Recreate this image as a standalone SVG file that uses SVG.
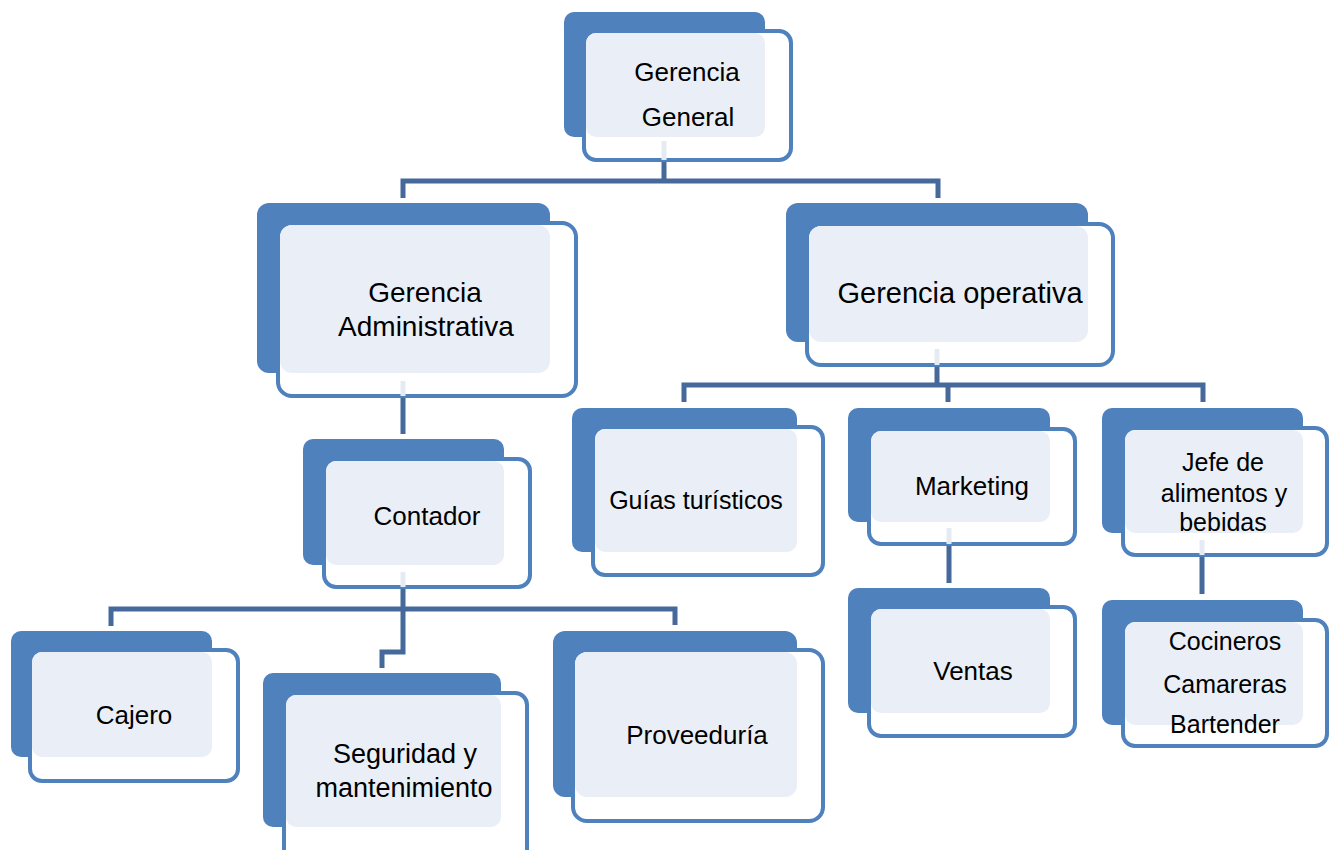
<svg xmlns="http://www.w3.org/2000/svg" width="1334" height="850" viewBox="0 0 1334 850">
<style>
.back{fill:#4F81BD}
.out{fill:#FFFFFF;stroke:#4F81BD;stroke-width:4}
.lite{fill:#EAEFF7}
.t{font-family:"Liberation Sans",Arial,sans-serif;fill:#000;text-anchor:middle}
.c{fill:none;stroke:#45699B;stroke-width:5}
.p{fill:none;stroke:#E6EBF3;stroke-width:5}
</style>
<rect width="1334" height="850" fill="#FFFFFF"/>
<g id="nodes">
<g id="gerencia-general">
<rect class="back" x="564" y="12" width="201" height="125" rx="10"/>
<rect class="out" x="584" y="31" width="207" height="129" rx="12"/>
<rect class="lite" x="586" y="33" width="179" height="104" rx="10"/>
<text class="t" font-size="26" x="687" y="81">Gerencia</text>
<text class="t" font-size="26" x="688" y="126">General</text>
</g>
<g id="gerencia-administrativa">
<rect class="back" x="257" y="203" width="293" height="170" rx="12"/>
<rect class="out" x="278" y="223" width="298" height="173" rx="14"/>
<rect class="lite" x="280" y="225" width="270" height="148" rx="12"/>
<text class="t" font-size="28" x="425" y="302">Gerencia</text>
<text class="t" font-size="28" x="426" y="336">Administrativa</text>
</g>
<g id="gerencia-operativa">
<rect class="back" x="786" y="203" width="302" height="139" rx="12"/>
<rect class="out" x="807" y="224" width="306" height="141" rx="14"/>
<rect class="lite" x="809" y="226" width="279" height="116" rx="12"/>
<text class="t" font-size="29" x="960" y="303">Gerencia operativa</text>
</g>
<g id="contador">
<rect class="back" x="303" y="439" width="201" height="126" rx="10"/>
<rect class="out" x="324" y="459" width="206" height="128" rx="12"/>
<rect class="lite" x="326" y="461" width="178" height="104" rx="10"/>
<text class="t" font-size="26" x="427" y="525">Contador</text>
</g>
<g id="guias-turisticos">
<rect class="back" x="572" y="408" width="225" height="144" rx="10"/>
<rect class="out" x="593" y="427" width="230" height="148" rx="12"/>
<rect class="lite" x="595" y="429" width="202" height="123" rx="10"/>
<text class="t" font-size="25" x="696" y="509">Guías turísticos</text>
</g>
<g id="marketing">
<rect class="back" x="848" y="408" width="202" height="114" rx="10"/>
<rect class="out" x="869" y="429" width="206" height="115" rx="12"/>
<rect class="lite" x="871" y="431" width="179" height="91" rx="10"/>
<text class="t" font-size="26" x="972" y="495">Marketing</text>
</g>
<g id="jefe-alimentos-bebidas">
<rect class="back" x="1102" y="408" width="201" height="125" rx="10"/>
<rect class="out" x="1123" y="428" width="204" height="127" rx="12"/>
<rect class="lite" x="1125" y="430" width="178" height="103" rx="10"/>
<text class="t" font-size="25" x="1223" y="471">Jefe de</text>
<text class="t" font-size="25" x="1224" y="502">alimentos y</text>
<text class="t" font-size="25" x="1223" y="531">bebidas</text>
</g>
<g id="ventas">
<rect class="back" x="848" y="588" width="202" height="125" rx="10"/>
<rect class="out" x="869" y="607" width="206" height="129" rx="12"/>
<rect class="lite" x="871" y="609" width="179" height="104" rx="10"/>
<text class="t" font-size="26" x="973" y="680">Ventas</text>
</g>
<g id="cocineros-camareras-bartender">
<rect class="back" x="1102" y="600" width="201" height="125" rx="10"/>
<rect class="out" x="1123" y="620" width="204" height="126" rx="12"/>
<rect class="lite" x="1125" y="622" width="178" height="103" rx="10"/>
<text class="t" font-size="25" x="1225" y="650">Cocineros</text>
<text class="t" font-size="25" x="1225" y="693">Camareras</text>
<text class="t" font-size="25" x="1225" y="733">Bartender</text>
</g>
<g id="cajero">
<rect class="back" x="11" y="631" width="201" height="126" rx="10"/>
<rect class="out" x="30" y="650" width="208" height="131" rx="12"/>
<rect class="lite" x="32" y="652" width="180" height="105" rx="10"/>
<text class="t" font-size="26" x="134" y="724">Cajero</text>
</g>
<g id="seguridad-mantenimiento">
<rect class="back" x="263" y="673" width="238" height="154" rx="10"/>
<rect class="out" x="284" y="693" width="243" height="170" rx="12"/>
<rect class="lite" x="286" y="695" width="215" height="132" rx="10"/>
<text class="t" font-size="27" x="405" y="763">Seguridad y</text>
<text class="t" font-size="27" x="404" y="797">mantenimiento</text>
</g>
<g id="proveeduria">
<rect class="back" x="553" y="631" width="244" height="166" rx="12"/>
<rect class="out" x="573" y="650" width="250" height="171" rx="14"/>
<rect class="lite" x="575" y="652" width="222" height="145" rx="12"/>
<text class="t" font-size="26" x="697" y="744">Proveeduría</text>
</g>
</g>
<g id="connectors">
<path class="p" d="M664 141V160M403 381V396M937 349V365M403 572V587M949 528V544M1202 540V555"/>
<path class="c" d="M664 162V181M403 198V181H938V198"/>
<path class="c" d="M403 398V434"/>
<path class="c" d="M937 367V385M684 402V385H1203V402M948 385V402"/>
<path class="c" d="M949 546V583"/>
<path class="c" d="M1202 557V594"/>
<path class="c" d="M403 589V652H382V668M111 626V609H675V625"/>
</g>
</svg>
